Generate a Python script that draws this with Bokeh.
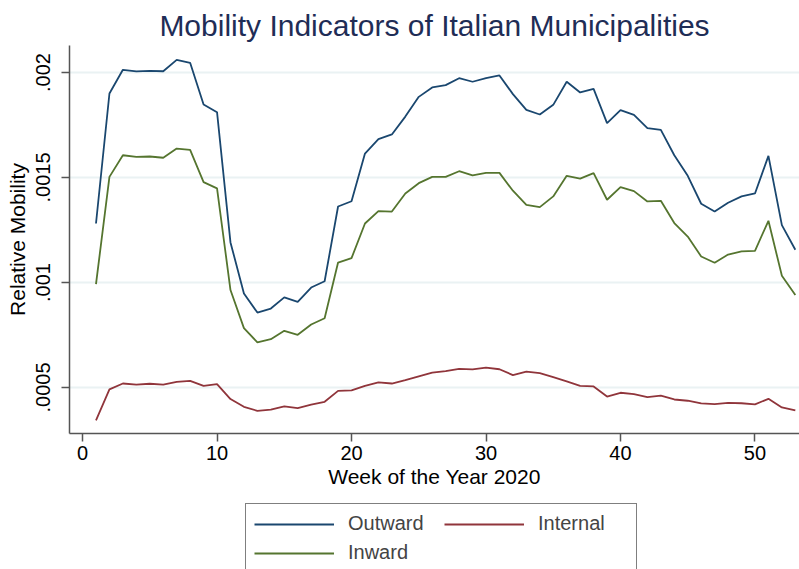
from bokeh.plotting import figure
from bokeh.layouts import column
from bokeh.models import Legend, LegendItem, FixedTicker, Range1d
from bokeh.embed import file_html
from bokeh.resources import INLINE

weeks = list(range(1, 54))
outward = [0.001281, 0.001900, 0.002013, 0.002005, 0.002008, 0.002006, 0.002060, 0.002046,
           0.001848, 0.001811, 0.001191, 0.000948, 0.000857, 0.000876, 0.000929, 0.000908,
           0.000976, 0.001006, 0.001362, 0.001387, 0.001614, 0.001683, 0.001705, 0.001790,
           0.001884, 0.001929, 0.001940, 0.001973, 0.001956, 0.001973, 0.001986, 0.001897,
           0.001822, 0.001800, 0.001846, 0.001956, 0.001905, 0.001922, 0.001759, 0.001821,
           0.001798, 0.001735, 0.001727, 0.001606, 0.001508, 0.001375, 0.001338, 0.001380,
           0.001410, 0.001424, 0.001603, 0.001273, 0.001156]
inward = [0.000992, 0.001503, 0.001606, 0.001598, 0.001600, 0.001594, 0.001638, 0.001632,
          0.001478, 0.001448, 0.000964, 0.000783, 0.000715, 0.000730, 0.000770, 0.000751,
          0.000800, 0.000830, 0.001095, 0.001116, 0.001281, 0.001340, 0.001338, 0.001424,
          0.001473, 0.001503, 0.001503, 0.001530, 0.001510, 0.001522, 0.001522, 0.001437,
          0.001370, 0.001359, 0.001410, 0.001508, 0.001495, 0.001521, 0.001394, 0.001454,
          0.001435, 0.001386, 0.001389, 0.001283, 0.001219, 0.001124, 0.001094, 0.001133,
          0.001148, 0.001151, 0.001294, 0.001032, 0.000941]
internal = [0.000343, 0.000491, 0.000519, 0.000514, 0.000518, 0.000514, 0.000527, 0.000532,
            0.000508, 0.000516, 0.000445, 0.000408, 0.000389, 0.000395, 0.000410, 0.000402,
            0.000418, 0.000432, 0.000484, 0.000486, 0.000508, 0.000524, 0.000519, 0.000535,
            0.000553, 0.000571, 0.000578, 0.000589, 0.000586, 0.000595, 0.000587, 0.000559,
            0.000576, 0.000568, 0.000549, 0.000529, 0.000508, 0.000505, 0.000457, 0.000475,
            0.000468, 0.000454, 0.000461, 0.000443, 0.000437, 0.000424, 0.000421, 0.000427,
            0.000425, 0.000420, 0.000446, 0.000405, 0.000391]

series_names = ["Outward", "Inward", "Internal"]
series_colors = ["#1a476f", "#55752f", "#90353b"]

x_ticks = [0, 10, 20, 30, 40, 50]
y_ticks = [0.0005, 0.001, 0.0015, 0.002]
y_tick_labels = [".0005", ".001", ".0015", ".002"]

FONT = "Liberation Sans"
AXIS_COLOR = "#555555"

p = figure(width=799, height=500, output_backend="svg", toolbar_location=None,
           x_range=Range1d(-0.97, 53.31), y_range=Range1d(0.000281, 0.0021286),
           min_border_left=69, min_border_right=0, min_border_top=45, min_border_bottom=67)

p.title.text = "Mobility Indicators of Italian Municipalities"
p.title.align = "center"
p.title.offset = 12
p.title.text_font = FONT
p.title.text_font_size = "30px"
p.title.text_font_style = "normal"
p.title.text_color = "#1f2d56"
p.title.standoff = 8

p.outline_line_color = None
p.background_fill_color = "white"
p.border_fill_color = "white"

p.xgrid.grid_line_color = None
p.ygrid.grid_line_color = "#eaf2f3"
p.ygrid.grid_line_width = 2

p.xaxis.ticker = FixedTicker(ticks=x_ticks)
p.yaxis.ticker = FixedTicker(ticks=y_ticks)
p.yaxis.major_label_overrides = {t: l for t, l in zip(y_ticks, y_tick_labels)}
p.yaxis.major_label_orientation = "vertical"

p.xaxis.axis_label = "Week of the Year 2020"
p.yaxis.axis_label = "Relative Mobility"

for ax in (p.xaxis[0], p.yaxis[0]):
    ax.axis_line_color = AXIS_COLOR
    ax.axis_line_width = 1.5
    ax.major_tick_line_color = AXIS_COLOR
    ax.major_tick_line_width = 1.5
    ax.major_tick_out = 8
    ax.major_tick_in = 0
    ax.minor_tick_line_color = None
    ax.major_label_text_font = FONT
    ax.major_label_text_font_size = "20px"
    ax.major_label_text_color = "black"
    ax.axis_label_text_font = FONT
    ax.axis_label_text_font_size = "21px"
    ax.axis_label_text_font_style = "normal"
    ax.axis_label_text_color = "black"

p.xaxis.major_label_standoff = 4
p.xaxis.axis_label_standoff = 2
p.yaxis.major_label_standoff = 11
p.yaxis.axis_label_standoff = 5

series_values = [outward, inward, internal]
for vals, col in zip(series_values, series_colors):
    p.line(weeks, vals, line_color=col, line_width=1.8)

# legend panel underneath, as in the reference (box partly cut by the page edge)
lg = figure(width=799, height=69, output_backend="svg", toolbar_location=None,
            x_axis_type=None, y_axis_type=None,
            x_range=Range1d(-0.97, 53.31), y_range=Range1d(1.0, 2.0),
            min_border_left=69, min_border_right=0, min_border_top=0, min_border_bottom=0)
lg.outline_line_color = None
lg.xgrid.grid_line_color = None
lg.ygrid.grid_line_color = None
lg.background_fill_color = "white"
lg.border_fill_color = "white"
lg_items = []
for name, vals, col in zip(series_names, series_values, series_colors):
    # same data as the chart; it lies outside this panel's y range, only the legend shows
    r = lg.line(weeks, vals, line_color=col, line_width=1.8)
    lg_items.append(LegendItem(label=name, renderers=[r]))

legend = Legend(items=lg_items, ncols=2, location=(176, -4), orientation="vertical")
legend.glyph_width = 80
legend.glyph_height = 22
legend.label_standoff = 14
legend.label_width = 90
legend.spacing = 6
legend.padding = 8
legend.margin = 0
legend.label_text_font = FONT
legend.label_text_font_size = "20px"
legend.border_line_color = "black"
legend.border_line_width = 1
legend.background_fill_color = "white"
legend.background_fill_alpha = 1
lg.add_layout(legend, "center")

layout = column(p, lg, spacing=0)
open("out.html", "w").write(file_html(layout, INLINE))
